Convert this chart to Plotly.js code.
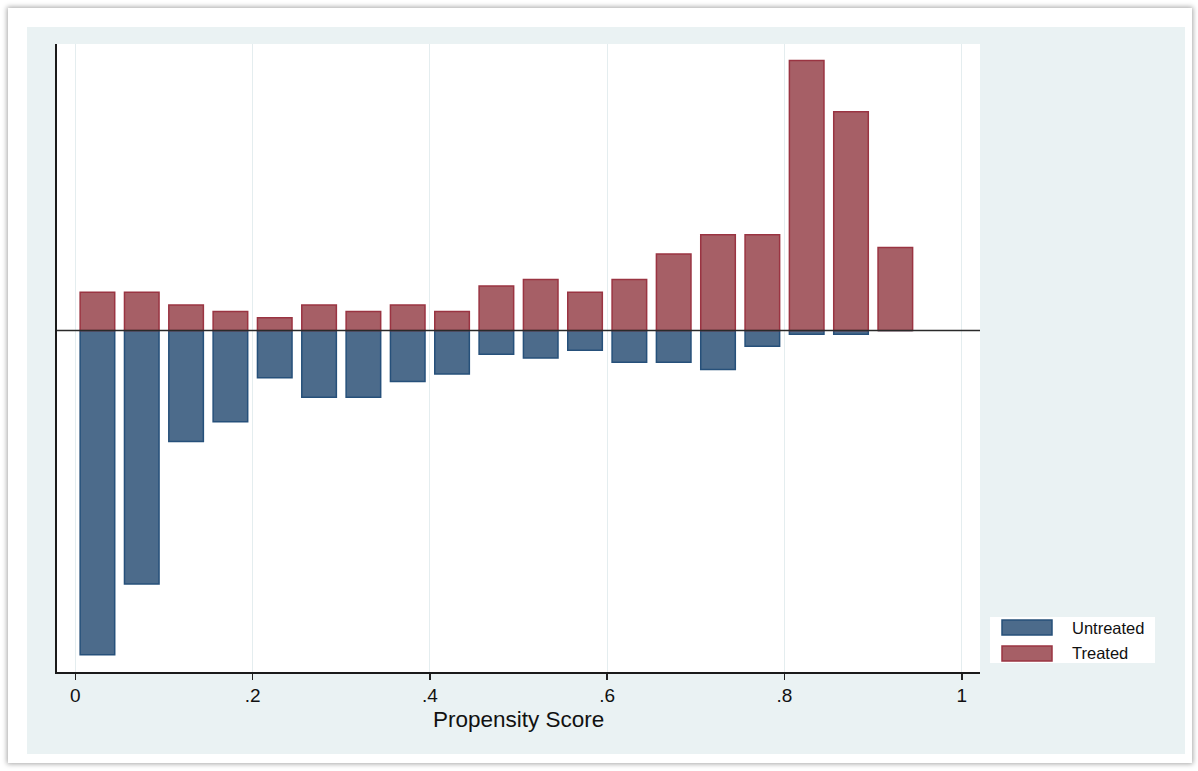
<!DOCTYPE html>
<html>
<head>
<meta charset="utf-8">
<script src="https://cdn.plot.ly/plotly-3.0.1.min.js"></script>
<style>
  html, body { margin: 0; padding: 0; background: #ffffff; width: 1198px; height: 771px; overflow: hidden; }
  #card { position: absolute; left: 8px; top: 8px; width: 1184px; height: 755px; background: #ffffff;
          box-shadow: 0 0 5px 1px rgba(0,0,0,0.35); }
  #chart { position: absolute; left: 27px; top: 27px; width: 1158px; height: 727px; }
</style>
</head>
<body>
<div id="card"></div>
<div id="chart"></div>
<script>
// Bin midpoints of the propensity score histogram
const binMid = [0.025, 0.075, 0.125, 0.175, 0.225, 0.275, 0.325, 0.375, 0.425, 0.475,
                0.525, 0.575, 0.625, 0.675, 0.725, 0.775, 0.825, 0.875, 0.925];
// Treated frequencies (drawn above zero)
const treated = [6, 6, 4, 3, 2, 4, 3, 4, 3, 7, 8, 6, 8, 12, 15, 15, 42.3, 34.3, 13];
// Untreated frequencies (drawn below zero)
const untreated = [50.8, 39.7, 17.4, 14.3, 7.4, 10.45, 10.45, 8.0, 6.8, 3.7, 4.3, 3.1, 4.95, 4.95, 6.1, 2.45, 0.56, 0.56, 0];
const tickVals = [0, 0.2, 0.4, 0.6, 0.8, 1];
const tickLabels = ["0", ".2", ".4", ".6", ".8", "1"];
const seriesNames = ["Untreated", "Treated"];
const xTitle = "Propensity Score";

const FONT = "Liberation Sans, Arial, Helvetica, sans-serif";
const untreatedFill = "#4C6B8B", untreatedLine = "#26507A";
const treatedFill = "#A65F66", treatedLine = "#9A3442";

const traces = [
  {
    type: "bar", name: seriesNames[0], x: binMid, y: untreated.map(v => -v), width: 0.039,
    marker: { color: untreatedFill, line: { color: untreatedLine, width: 1.5 } },
    showlegend: false, hoverinfo: "x+name"
  },
  {
    type: "bar", name: seriesNames[1], x: binMid, y: treated, width: 0.039,
    marker: { color: treatedFill, line: { color: treatedLine, width: 1.5 } },
    showlegend: false, hoverinfo: "x+name"
  }
];

// plot area in page pixels: x 57..980, y 44..672 ; helper to convert page px to paper coords
const PL = 57, PR = 980, PT = 44, PB = 672;
const px = p => (p - PL) / (PR - PL);
const py = p => (PB - p) / (PB - PT);

const shapes = [
  { type: "line", xref: "paper", yref: "y", x0: 0, x1: 1, y0: 0, y1: 0, layer: "above",
    line: { color: "#2a2a2a", width: 1.5 } },
  // legend box
  { type: "rect", xref: "paper", yref: "paper", x0: px(990), x1: px(1155), y0: py(663), y1: py(617),
    fillcolor: "#ffffff", line: { width: 0 } },
  { type: "rect", xref: "paper", yref: "paper", x0: px(1002), x1: px(1052), y0: py(635), y1: py(620),
    fillcolor: untreatedFill, line: { color: untreatedLine, width: 1.5 } },
  { type: "rect", xref: "paper", yref: "paper", x0: px(1002), x1: px(1052), y0: py(661), y1: py(646),
    fillcolor: treatedFill, line: { color: treatedLine, width: 1.5 } }
];

const annotations = [
  { xref: "paper", yref: "paper", x: px(1070), y: py(627.5), xanchor: "left", yanchor: "middle",
    text: seriesNames[0], showarrow: false, font: { family: FONT, size: 16.5, color: "#111" } },
  { xref: "paper", yref: "paper", x: px(1070), y: py(653), xanchor: "left", yanchor: "middle",
    text: seriesNames[1], showarrow: false, font: { family: FONT, size: 16.5, color: "#111" } },
  { xref: "paper", yref: "paper", x: 0.5, y: py(719), xanchor: "center", yanchor: "middle",
    text: xTitle, showarrow: false, font: { family: FONT, size: 22.5, color: "#111" } }
];

const layout = {
  width: 1158, height: 727,
  margin: { l: 30, r: 205, t: 17, b: 82, pad: 0 },
  paper_bgcolor: "#EAF2F3",
  plot_bgcolor: "#ffffff",
  barmode: "overlay",
  showlegend: false,
  font: { family: FONT, color: "#111" },
  xaxis: {
    range: [-0.0206, 1.0205],
    tickmode: "array", tickvals: tickVals, ticktext: tickLabels,
    ticks: "outside", ticklen: 6, tickwidth: 1.5, tickcolor: "#222",
    tickfont: { family: FONT, size: 19, color: "#111" },
    showgrid: true, gridcolor: "#E4EDEF", gridwidth: 1,
    zeroline: false,
    showline: true, linecolor: "#1a1a1a", linewidth: 1.5,
    fixedrange: true
  },
  yaxis: {
    range: [-53.5, 44.9],
    showticklabels: false, ticks: "",
    showgrid: false, zeroline: false,
    showline: true, linecolor: "#1a1a1a", linewidth: 2,
    fixedrange: true
  },
  shapes: shapes,
  annotations: annotations
};

Plotly.newPlot("chart", traces, layout, { displayModeBar: false, staticPlot: true });
</script>
</body>
</html>
